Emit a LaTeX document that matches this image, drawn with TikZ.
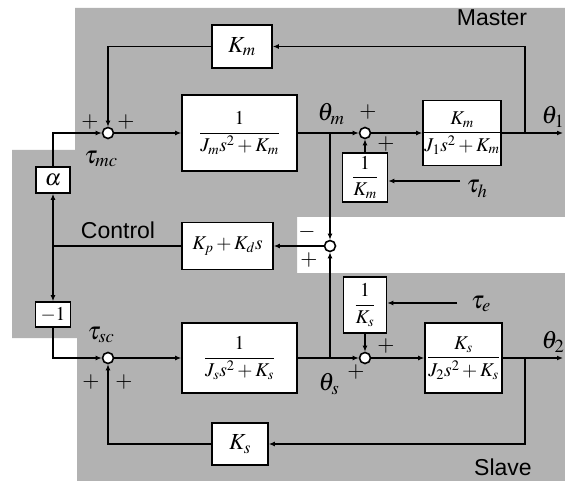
\documentclass[tikz,border=0pt]{standalone}
\usepackage{mathptmx}
\usepackage[no-math]{fontspec}
\setmainfont{Liberation Serif}
\newfontfamily\labelsans{Liberation Sans}
\usetikzlibrary{arrows.meta}
\begin{document}
\begin{tikzpicture}[x=1pt,y=-1pt,
  wire/.style={line width=1.7pt},
  arr/.style={wire,-{Latex[length=6pt,width=5pt]}},
  blk/.style={draw,line width=1.6pt,fill=white,inner sep=0pt,font=\fontsize{19.5}{22}\selectfont},
  bigblk/.style={blk,font=\fontsize{23}{25}\selectfont},
  sumj/.style={circle,draw,line width=1.6pt,fill=white,minimum size=11pt,inner sep=0pt},
  sgn/.style={font=\fontsize{22}{24}\selectfont,inner sep=0pt},
  sig/.style={font=\fontsize{25}{27}\selectfont,inner sep=0pt},
  region/.style={font=\labelsans\fontsize{23}{25}\selectfont,inner sep=0pt},
]
\useasboundingbox (0,0) rectangle (565,481);
\fill[black!30] (75,8) -- (565,8) -- (565,217) -- (297,217) -- (297,273) -- (565,273)
  -- (565,481) -- (77,481) -- (77,338) -- (12,338) -- (12,150) -- (75,150) -- cycle;

% blocks
\node[bigblk,minimum width=60pt,minimum height=43pt] (Km) at (242,46.5) {$K_m$};
\node[blk,minimum width=115pt,minimum height=76pt] (Gm) at (239.5,133) {$\displaystyle\frac{1}{J_m s^2+K_m}$};
\node[blk,minimum width=78pt,minimum height=65pt] (Pm) at (462,133) {$\displaystyle\frac{K_m}{J_1 s^2+K_m}$};
\node[blk,minimum width=45pt,minimum height=49pt] (iKm) at (365,177.5) {$\displaystyle\frac{1}{K_m}$};
\node[bigblk,minimum width=34pt,minimum height=26pt] (alpha) at (53,180) {$\alpha$};
\node[blk,minimum width=91pt,minimum height=47pt] (Kp) at (227.5,246) {$K_p+K_d s$};
\node[blk,minimum width=35pt,minimum height=25pt] (neg1) at (53,314.5) {$-1$};
\node[blk,minimum width=115pt,minimum height=70pt] (Gs) at (239.5,358) {$\displaystyle\frac{1}{J_s s^2+K_s}$};
\node[blk,minimum width=43pt,minimum height=56pt] (iKs) at (365,305) {$\displaystyle\frac{1}{K_s}$};
\node[blk,minimum width=77pt,minimum height=70pt] (Ps) at (463.5,358) {$\displaystyle\frac{K_s}{J_2 s^2+K_s}$};
\node[bigblk,minimum width=56pt,minimum height=42pt] (Ks) at (240,444) {$K_s$};

% summing junctions
\node[sumj] (S1) at (108,133) {};
\node[sumj] (S2) at (365,133) {};
\node[sumj] (C) at (330,246) {};
\node[sumj] (S3) at (108,358) {};
\node[sumj] (S4) at (365,358) {};

% free coordinates
\coordinate (th1) at (563,133);
\coordinate (bm) at (525,133);
\coordinate (tm) at (330,133);
\coordinate (thx) at (460,181);
\coordinate (cj) at (53,246);
\coordinate (ts) at (330,358);
\coordinate (th2) at (563,358);
\coordinate (bs) at (525,358);
\coordinate (tex) at (457,303);

% master wiring
\draw[arr] (alpha.north) |- (S1.west);
\draw[arr] (S1.east) -- (Gm.west);
\draw[arr] (Gm.east) -- (S2.west);
\draw[arr] (S2.east) -- (Pm.west);
\draw[arr] (Pm.east) -- (th1);
\draw[arr] (bm) |- (Km.east);
\draw[arr] (Km.west) -| (S1.north);
\draw[arr] (tm) -- (C.north);
\draw[arr] (iKm.north) -- (S2.south);
\draw[arr] (thx) -- (thx -| iKm.east);

% control wiring
\draw[arr] (C.west) -- (Kp.east);
\draw[wire] (Kp.west) -- (cj);
\draw[arr] (cj) -- (alpha.south);
\draw[arr] (cj) -- (neg1.north);
\draw[arr] (ts) -- (C.south);

% slave wiring
\draw[arr] (neg1.south) |- (S3.west);
\draw[arr] (S3.east) -- (Gs.west);
\draw[arr] (Gs.east) -- (S4.west);
\draw[arr] (S4.east) -- (Ps.west);
\draw[arr] (Ps.east) -- (th2);
\draw[arr] (bs) |- (Ks.east);
\draw[arr] (Ks.west) -| (S3.south);
\draw[arr] (iKs.south) -- (S4.north);
\draw[arr] (tex) -- (tex -| iKs.east);

% signs
\node[sgn] (p1) at (90,122) {$+$};
\node[sgn] (p2) at (126,122) {$+$};
\node[sgn] (p3) at (368,112) {$+$};
\node[sgn] (p4) at (386,144) {$+$};
\node[sgn] (m5) at (307,232) {$-$};
\node[sgn] (p6) at (309,260) {$+$};
\node[sgn] (p7) at (91,382) {$+$};
\node[sgn] (p8) at (124,382) {$+$};
\node[sgn] (p9) at (386,346) {$+$};
\node[sgn] (p10) at (356,372) {$+$};

% signal labels
\node[sig] (lmc) at (101,159) {$\tau_{mc}$};
\node[sig] (lsc) at (101,335) {$\tau_{sc}$};
\node[sig] (ltm) at (331,114) {$\theta_m$};
\node[sig] (lts) at (329,384) {$\theta_s$};
\node[sig] (lth) at (477,189) {$\tau_h$};
\node[sig] (lte) at (481,304) {$\tau_e$};
\node[sig] (lt1) at (553,117) {$\theta_1$};
\node[sig] (lt2) at (553,342) {$\theta_2$};

% region labels
\node[region] (master) at (492,18) {Master};
\node[region] (control) at (118,230) {Control};
\node[region] (slave) at (503,467) {Slave};
\end{tikzpicture}
\end{document}
